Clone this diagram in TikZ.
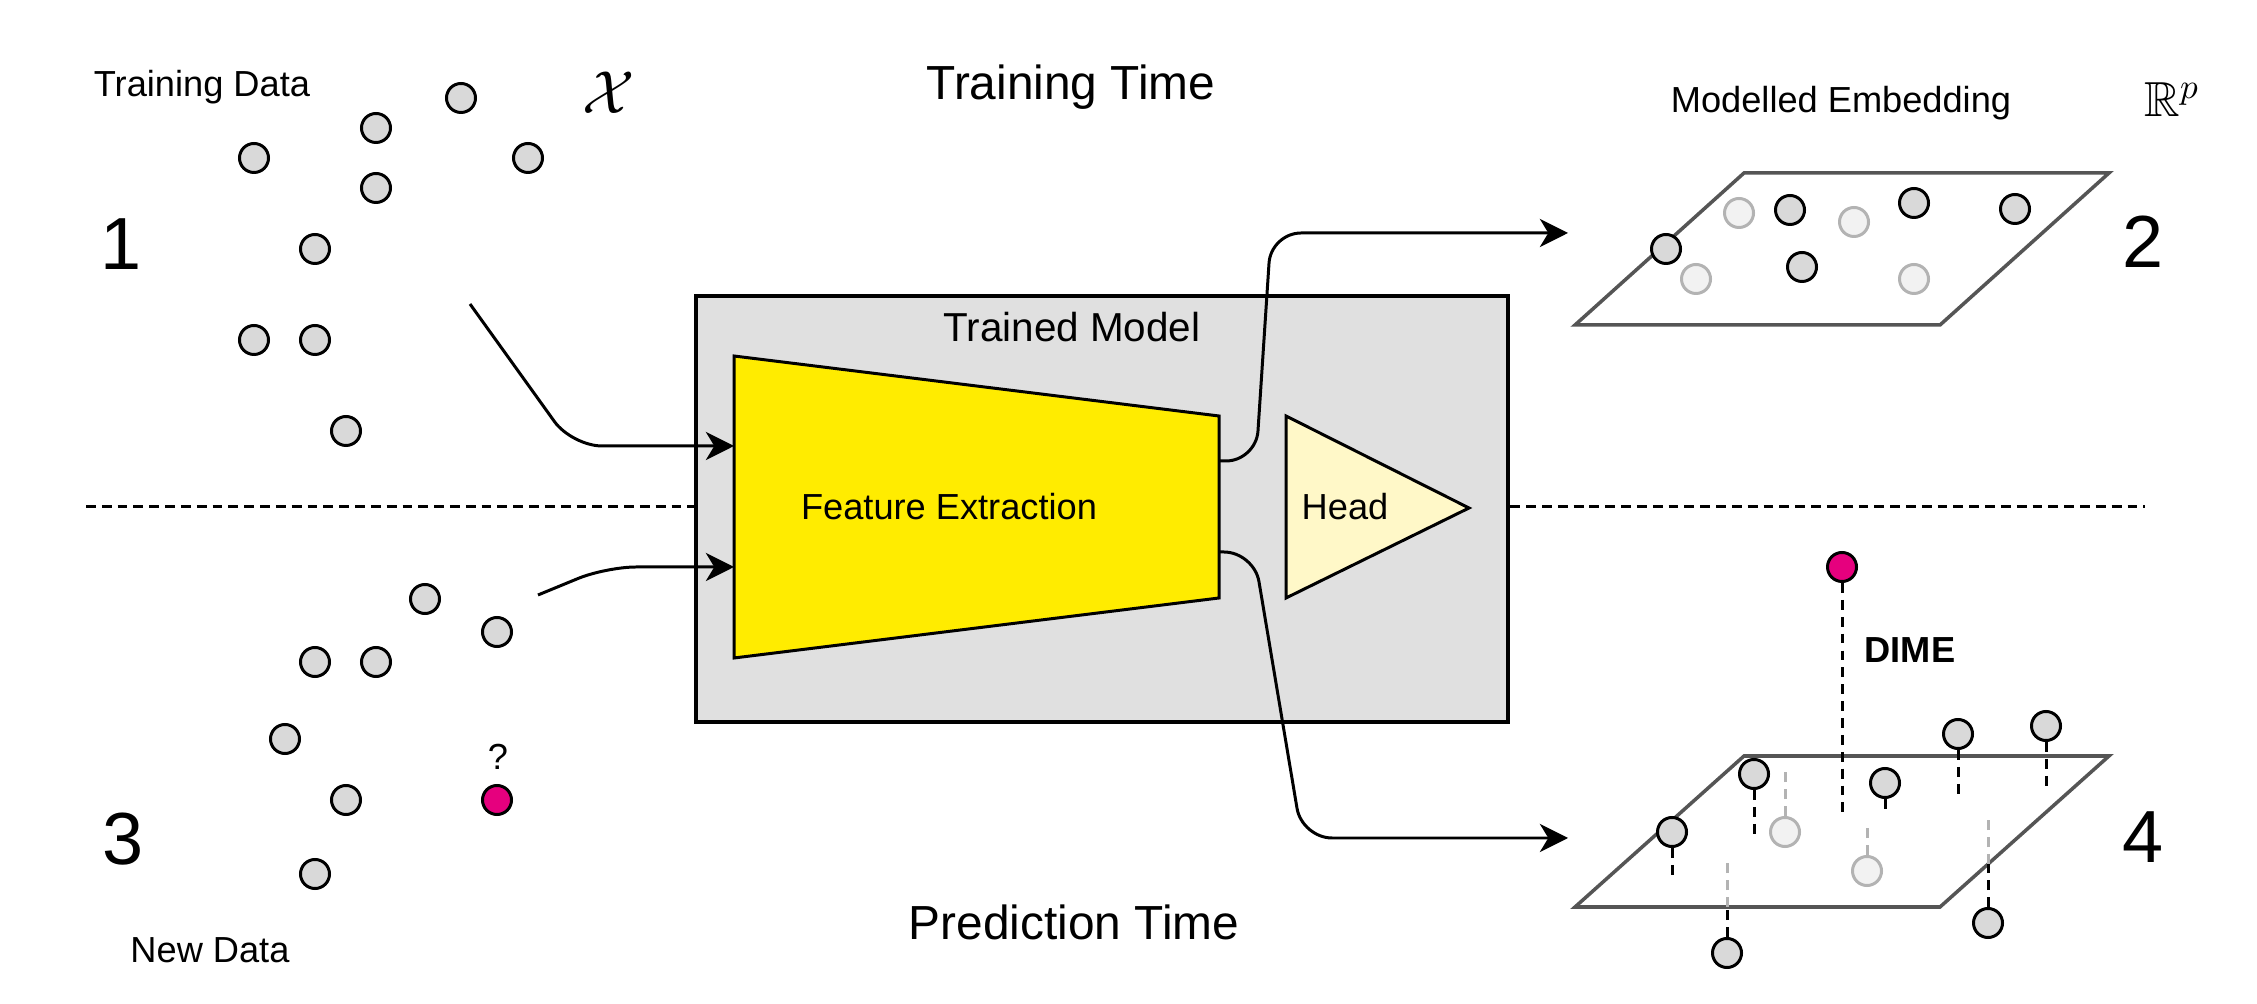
\documentclass[tikz,border=0pt]{standalone}
\usepackage{amssymb}
\usepackage{fontspec}
\setmainfont{Liberation Sans}
\usetikzlibrary{arrows.meta}
\definecolor{ptgray}{HTML}{D9D9D9}
\definecolor{lightstroke}{HTML}{B3B3B3}
\definecolor{lightfill}{HTML}{F2F2F2}
\definecolor{dimemag}{HTML}{E6007E}
\definecolor{boxgray}{HTML}{E0E0E0}
\definecolor{feyellow}{HTML}{FFEC00}
\definecolor{headyellow}{HTML}{FFF8C8}
\definecolor{planegray}{HTML}{555555}
\begin{document}
\begin{tikzpicture}[x=0.01cm,y=-0.01cm,
  dpt/.style={circle,draw=black,fill=ptgray,line width=0.85pt,minimum size=0.29cm,inner sep=0pt},
  lpt/.style={circle,draw=lightstroke,fill=lightfill,line width=0.85pt,minimum size=0.29cm,inner sep=0pt},
  mpt/.style={dpt,fill=dimemag},
  conn/.style={line width=0.85pt,rounded corners=0.3cm},
  arr/.style={conn,-{Stealth[length=8pt,width=8pt,inset=2.4pt]}},
  lbl/.style={font=\fontsize{10.3}{12}\selectfont,inner sep=0pt,anchor=base},
  bigl/.style={font=\fontsize{13.6}{16}\selectfont,inner sep=0pt,anchor=base},
  numl/.style={font=\fontsize{21}{24}\selectfont,inner sep=0pt,anchor=base},
  plane/.style={draw=planegray,fill=white,line width=1pt},
  ddash/.style={line width=0.85pt,dash pattern=on 2.8pt off 2pt},
  ldash/.style={ddash,draw=lightstroke},
  sep/.style={line width=0.85pt,dash pattern=on 2.8pt off 1.7pt}]
\useasboundingbox (0,0) rectangle (2257,1004);

% ---- separator
\coordinate (sepL) at (86,507);
\coordinate (sepR) at (2145,507);

% ---- trained model box
\node[draw=black,fill=boxgray,line width=1.1pt,minimum width=8.12cm,minimum height=4.26cm,inner sep=0pt,anchor=north west] (box) at (694,294) {};
\draw[sep] (sepL) -- (box.west |- sepL);
\draw[sep] (box.east |- sepR) -- (sepR);
\node[font=\fontsize{11.5}{14}\selectfont,inner sep=0pt,anchor=base] (tm) at (1072,342) {Trained Model};

% feature extraction trapezoid
\coordinate (fe1) at (734,356);
\coordinate (fe2) at (1219,416);
\coordinate (fe3) at (1219,598);
\coordinate (fe4) at (734,658);
\draw[fill=feyellow,line width=0.85pt] (fe1) -- (fe2) -- (fe3) -- (fe4) -- cycle;
\node[lbl] (fetext) at (949,520) {Feature Extraction};
\coordinate (feinA) at (734,446);
\coordinate (feinB) at (734,567);
\coordinate (feoutA) at (1219,461);
\coordinate (feoutB) at (1219,552);

% head triangle
\coordinate (h1) at (1286,416);
\coordinate (h2) at (1469,508);
\coordinate (h3) at (1286,598);
\draw[fill=headyellow,line width=0.85pt] (h1) -- (h2) -- (h3) -- cycle;
\node[lbl] (headtext) at (1345,520) {Head};

% ---- titles
\node[bigl] (ttime) at (1071,100) {Training Time};
\node[bigl] (ptime) at (1074,940) {Prediction Time};

% ---- training data
\node[lbl] (tdata) at (202,97) {Training Data};
\node[inner sep=0pt,font=\fontsize{17}{20}\selectfont] (calx) at (609,93) {$\mathcal{X}$};
\node[numl] (n1) at (121,270) {1};
\node[dpt] (t1) at (461,98) {};
\node[dpt] (t2) at (376,128) {};
\node[dpt] (t3) at (254,158) {};
\node[dpt] (t4) at (528,158) {};
\node[dpt] (t5) at (376,188) {};
\node[dpt] (t6) at (315,249) {};
\node[dpt] (t7) at (254,340) {};
\node[dpt] (t8) at (315,340) {};
\node[dpt] (t9) at (346,431) {};
\coordinate (inA) at (470,304);
\draw[arr] (inA) -- (572,446) -- (feinA);

% ---- new data
\node[lbl] (ndata) at (210,963) {New Data};
\node[numl] (n3) at (123,865) {3};
\node[dpt] (p1) at (425,599) {};
\node[dpt] (p2) at (497,632) {};
\node[dpt] (p3) at (315,662) {};
\node[dpt] (p4) at (376,662) {};
\node[dpt] (p5) at (285,739) {};
\node[dpt] (p6) at (346,800) {};
\node[dpt] (p7) at (315,874) {};
\node[mpt] (pq) at (497,800) {};
\node[lbl] (qmark) at (498,770) {?};
\coordinate (inB) at (538,595);
\draw[arr] (inB) -- (606,567) -- (feinB);

% ---- modelled embedding (2)
\node[lbl] (memb) at (1841,113) {Modelled Embedding};
\node[inner sep=0pt,font=\fontsize{14}{16}\selectfont] (rp) at (2172,100) {$\mathbb{R}^p$};
\node[numl] (n2) at (2143,268) {2};
\coordinate (pa1) at (1744,173);
\coordinate (pa2) at (2109,173);
\coordinate (pa3) at (1940,325);
\coordinate (pa4) at (1575,325);
\draw[plane] (pa1) -- (pa2) -- (pa3) -- (pa4) -- cycle;
\node[lpt] (e1) at (1739,213) {};
\node[lpt] (e2) at (1854,222) {};
\node[lpt] (e3) at (1696,279) {};
\node[lpt] (e4) at (1914,279) {};
\node[dpt] (e5) at (1666,249) {};
\node[dpt] (e6) at (1790,210) {};
\node[dpt] (e7) at (1914,203) {};
\node[dpt] (e8) at (2015,209) {};
\node[dpt] (e9) at (1802,267) {};
\coordinate (outA) at (1568,233);
\draw[arr] (feoutA) -- (1256,461) -- (1271,233) -- (outA);

% ---- prediction embedding (4)
\node[numl] (n4) at (2143,863) {4};
\coordinate (pb1) at (1744,756);
\coordinate (pb2) at (2109,756);
\coordinate (pb3) at (1940,907);
\coordinate (pb4) at (1575,907);
\draw[plane] (pb1) -- (pb2) -- (pb3) -- (pb4) -- cycle;
% light points under the plane
\node[lpt] (g1) at (1785,832) {};
\node[lpt] (g2) at (1867,871) {};
\draw[ldash] (g1.north) -- (1785,770);
\draw[ldash] (g2.north) -- (1867,828);
% points below the plane
\node[dpt] (f1) at (1727,953) {};
\node[dpt] (f2) at (1988,923) {};
\draw[ddash] (f1.north) -- (1727,907);
\draw[ldash] (1727,907) -- (1727,857);
\draw[ddash] (f2.north) -- (1988,864);
\draw[ldash] (1988,864) -- (1988,817);
% points above the plane
\node[dpt] (a1) at (1672,832) {};
\node[dpt] (a2) at (1754,774) {};
\node[dpt] (a3) at (1885,783) {};
\node[dpt] (a4) at (1958,734) {};
\node[dpt] (a5) at (2046,726) {};
\draw[ddash] (a1.south) -- (1672,880);
\draw[ddash] (a2.south) -- (1754,838);
\draw[ddash] (a3.south) -- (1885,813);
\draw[ddash] (a4.south) -- (1958,798);
\draw[ddash] (a5.south) -- (2046,789);
\node[mpt] (dm) at (1842,567) {};
\coordinate (dmfoot) at (1842,813);
\draw[ddash] (dm.south) -- (dmfoot);
\node[lbl,font=\fontsize{10.3}{12}\selectfont\bfseries] (dime) at (1910,663) {DIME};
\coordinate (outB) at (1568,838);
\draw[arr] (feoutB) -- (1254,552) -- (1302,838) -- (outB);
\end{tikzpicture}
\end{document}
